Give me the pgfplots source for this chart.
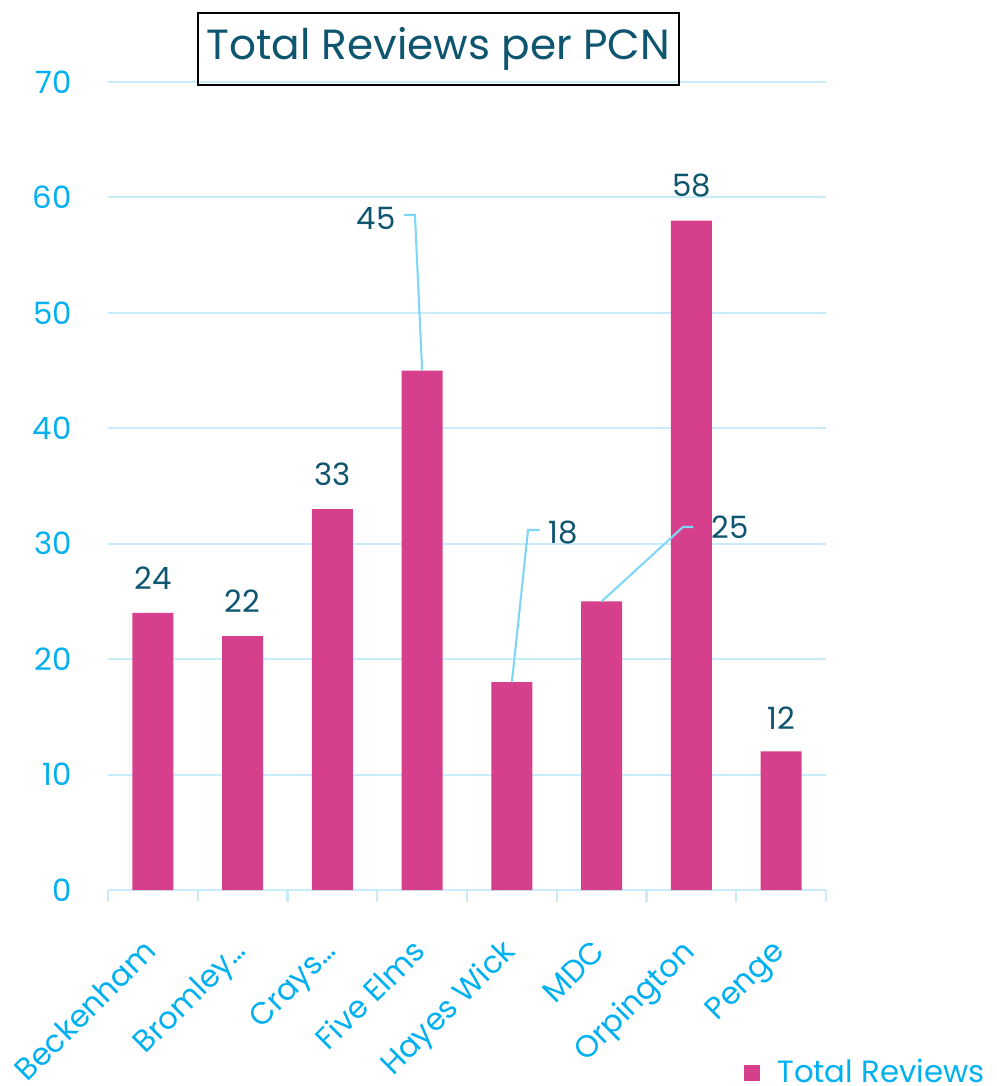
\documentclass[border=0pt]{standalone}
\usepackage{fontspec}
\setmainfont{Poppins}
\usepackage{pgfplots}
\usepackage{pgfplotstable}
\pgfplotsset{compat=1.18}

\definecolor{barpink}{HTML}{D63F8C}
\definecolor{tickblue}{HTML}{00B0F0}
\definecolor{darkteal}{HTML}{0E5570}
\definecolor{gridblue}{HTML}{C8ECFA}
\definecolor{leaderblue}{HTML}{80D6F7}

\pgfplotstableread{
x val
0 24
1 22
2 33
3 45
4 18
5 25
6 58
7 12
}\reviews

% where the value labels sit (three of them are pulled away with leader lines)
\pgfplotstableread{
x y lab
0 27.0 24
1 25.0 22
2 36.0 33
2.486 58.2 45
4.57 31.0 18
6.43 31.4 25
6 61.0 58
7 14.9 12
}\labels

\begin{document}
\begin{tikzpicture}
\useasboundingbox (-2.16,-3.92) rectangle (17.76,17.8);
\begin{axis}[
  at={(0,0)}, anchor=south west,
  scale only axis,
  width=14.36cm, height=16.16cm,
  xmin=-0.5, xmax=7.5,
  ymin=0, ymax=70,
  ytick={0,10,...,70},
  xtick={0,...,7},
  xticklabels={Beckenham,Bromley…,Crays…,Five Elms,Hayes Wick,MDC,Orpington,Penge},
  minor xtick={-0.5,0.5,...,7.5},
  major tick length=0pt,
  minor tick length=0.24cm,
  tick align=outside,
  minor tick style={draw=gridblue, line width=1.2pt},
  axis x line*=bottom,
  axis y line*=left,
  x axis line style={draw=gridblue, line width=1.4pt, -},
  y axis line style={draw=none},
  ymajorgrids,
  major grid style={draw=gridblue, line width=1.2pt},
  /pgf/number format/assume math mode=true,
  yticklabel style={font=\fontsize{17.5}{20}\selectfont, text=tickblue, inner sep=0pt, xshift=-0.72cm},
  xticklabel style={font=\fontsize{17.5}{20}\selectfont, text=tickblue, inner sep=0pt,
    xshift=0.1cm, yshift=-1.26cm, rotate=45, anchor=base east},
  title={Total Reviews per PCN},
  every axis title shift=0pt,
  title style={draw=black, line width=1pt, font=\fontsize{24}{28}\selectfont, text=darkteal,
    minimum width=9.62cm, minimum height=1.44cm, inner sep=0pt, yshift=0pt,
    at={(axis description cs:0.460,1.0408)}, anchor=center},
  legend style={at={(axis description cs:1.226,-0.226)}, anchor=east, draw=none, fill=none,
    font=\fontsize{17.5}{20}\selectfont, text=tickblue, inner sep=0pt,
    /tikz/every odd column/.append style={column sep=0.28cm}},
  legend cell align=left,
  clip=false
]
  \addplot[ybar, bar width=0.82cm, fill=barpink, draw=none,
    legend image code/.code={\fill[barpink] (0cm,-0.16cm) rectangle (0.32cm,0.16cm);}]
    table[x=x, y=val] {\reviews};
  \addlegendentry{Total Reviews}

  \addplot[draw=none, mark=none, forget plot,
    nodes near coords, point meta=explicit symbolic,
    every node near coord/.append style={anchor=center, inner sep=0pt,
      font=\fontsize{17.5}{20}\selectfont, text=darkteal}]
    table[x=x, y=y, meta=lab] {\labels};

  % leader lines
  \draw[leaderblue, line width=1.2pt] (axis cs:2.80,58.48) -- (axis cs:2.92,58.48) -- (axis cs:3.0,45);
  \draw[leaderblue, line width=1.2pt] (axis cs:4.0,18) -- (axis cs:4.18,31.19) -- (axis cs:4.31,31.19);
  \draw[leaderblue, line width=1.2pt] (axis cs:5.0,25) -- (axis cs:5.907,31.45) -- (axis cs:6.02,31.45);
\end{axis}
\end{tikzpicture}
\end{document}
